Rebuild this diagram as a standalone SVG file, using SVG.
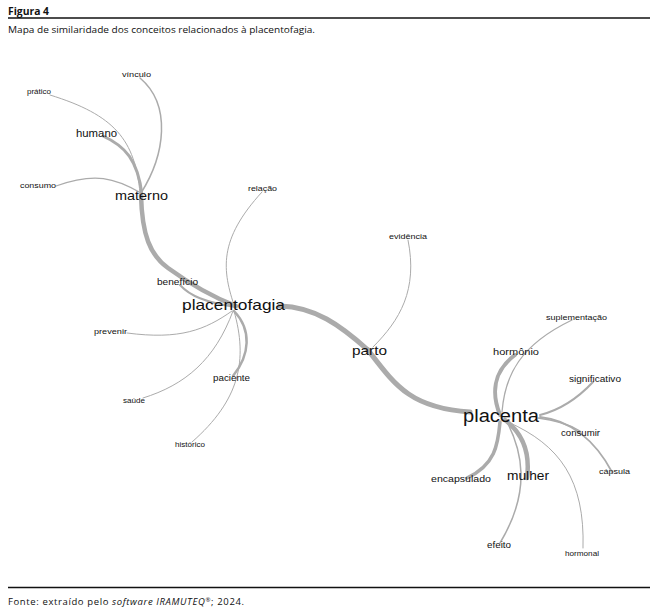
<svg xmlns="http://www.w3.org/2000/svg" width="660" height="616" viewBox="0 0 660 616">
<style>
.cap{font-family:"Open Sans","Noto Sans","DejaVu Sans",sans-serif;fill:#111}
.lbl{font-family:"Liberation Sans",Arial,sans-serif;fill:#111}
.e{fill:none;stroke:#ababab;stroke-linecap:round}
.rule{stroke:#111}
</style>
<rect width="660" height="616" fill="#fff"/>
<g id="header">
<text class="cap" x="8" y="15" font-size="10.5" font-weight="bold" textLength="41" lengthAdjust="spacingAndGlyphs">Figura 4</text>
<line class="rule" x1="8" y1="18" x2="650" y2="18" stroke-width="1.3"/>
<text class="cap" x="8" y="33" font-size="9" textLength="307" lengthAdjust="spacingAndGlyphs">Mapa de similaridade dos conceitos relacionados à placentofagia.</text>
</g>
<g id="connectors">
<path class="e" stroke-width="3" d="M103,136 C125,146 138,160 142,195"/>
<path class="e" stroke-width="1.5" d="M141,193 C165,155 172,105 140,78"/>
<path class="e" stroke-width="1" stroke="#bdbdbd" d="M140,193 C135,140 115,115 50,95"/>
<path class="e" stroke-width="1.3" d="M141,193 C115,178 95,172 56,186"/>
<path class="e" stroke-width="4.5" d="M141,195 C142,235 150,255 168,268 C190,284 210,296 236,306"/>
<path class="e" stroke-width="2" d="M180,285 C190,296 205,302 235,307"/>
<path class="e" stroke-width="1" stroke="#c2c2c2" d="M235,308 C222,270 218,240 262,192"/>
<path class="e" stroke-width="1" stroke="#c2c2c2" d="M232,311 C205,330 180,340 127,333"/>
<path class="e" stroke-width="1" stroke="#c2c2c2" d="M233,311 C215,360 185,385 143,398"/>
<path class="e" stroke-width="2.5" d="M234,311 C252,330 250,355 233,376"/>
<path class="e" stroke-width="1" stroke="#c2c2c2" d="M234,311 C248,360 240,400 192,442"/>
<path class="e" stroke-width="5" d="M280,306 C315,307 340,325 368,350"/>
<path class="e" stroke-width="5" d="M368,350 C395,385 410,408 470,412"/>
<path class="e" stroke-width="1" stroke="#c2c2c2" d="M373,347 C400,320 418,290 408,240"/>
<path class="e" stroke-width="4" d="M500,415 C492,395 492,372 515,355"/>
<path class="e" stroke-width="1.3" d="M502,412 C505,375 520,345 572,320"/>
<path class="e" stroke-width="2" d="M540,415 C560,410 578,398 593,382"/>
<path class="e" stroke-width="1.3" d="M538,418 C555,420 570,425 580,431"/>
<path class="e" stroke-width="1.8" d="M540,417 C570,420 595,440 612,472"/>
<path class="e" stroke-width="4.5" d="M505,420 C525,435 530,455 527,478"/>
<path class="e" stroke-width="1.5" d="M506,420 C522,450 532,490 500,543"/>
<path class="e" stroke-width="3.5" d="M500,422 C498,445 495,465 467,478"/>
<path class="e" stroke-width="1" stroke="#c2c2c2" d="M508,422 C560,445 585,480 583,548"/>
</g>
<g id="n-materno"><text class="lbl" x="115" y="200" font-size="12.7" textLength="53" lengthAdjust="spacingAndGlyphs">materno</text></g>
<g id="n-humano"><text class="lbl" x="76" y="137" font-size="10" textLength="41" lengthAdjust="spacingAndGlyphs">humano</text></g>
<g id="n-vinculo"><text class="lbl" x="122" y="77" font-size="8" textLength="29" lengthAdjust="spacingAndGlyphs">vínculo</text></g>
<g id="n-pratico"><text class="lbl" x="27" y="94" font-size="7" textLength="24" lengthAdjust="spacingAndGlyphs">prático</text></g>
<g id="n-consumo"><text class="lbl" x="20" y="188" font-size="7.8" textLength="36" lengthAdjust="spacingAndGlyphs">consumo</text></g>
<g id="n-relacao"><text class="lbl" x="248" y="191" font-size="7.8" textLength="29" lengthAdjust="spacingAndGlyphs">relação</text></g>
<g id="n-placentofagia"><text class="lbl" x="182" y="310" font-size="15" textLength="103" lengthAdjust="spacingAndGlyphs">placentofagia</text></g>
<g id="n-beneficio"><text class="lbl" x="157" y="285" font-size="8.8" textLength="41" lengthAdjust="spacingAndGlyphs">benefício</text></g>
<g id="n-prevenir"><text class="lbl" x="94" y="334" font-size="8" textLength="33" lengthAdjust="spacingAndGlyphs">prevenir</text></g>
<g id="n-paciente"><text class="lbl" x="213" y="381" font-size="8.6" textLength="37" lengthAdjust="spacingAndGlyphs">paciente</text></g>
<g id="n-saude"><text class="lbl" x="123" y="403" font-size="7" textLength="22" lengthAdjust="spacingAndGlyphs">saúde</text></g>
<g id="n-historico"><text class="lbl" x="175" y="447" font-size="7" textLength="30" lengthAdjust="spacingAndGlyphs">histórico</text></g>
<g id="n-parto"><text class="lbl" x="352" y="355" font-size="13.5" textLength="35" lengthAdjust="spacingAndGlyphs">parto</text></g>
<g id="n-evidencia"><text class="lbl" x="389" y="239" font-size="8" textLength="38" lengthAdjust="spacingAndGlyphs">evidência</text></g>
<g id="n-suplementacao"><text class="lbl" x="546" y="320" font-size="7.4" textLength="61" lengthAdjust="spacingAndGlyphs">suplementação</text></g>
<g id="n-hormonio"><text class="lbl" x="493" y="355" font-size="9.7" textLength="46" lengthAdjust="spacingAndGlyphs">hormônio</text></g>
<g id="n-significativo"><text class="lbl" x="569" y="382" font-size="8.8" textLength="52" lengthAdjust="spacingAndGlyphs">significativo</text></g>
<g id="n-placenta"><text class="lbl" x="463" y="422" font-size="17.5" textLength="76" lengthAdjust="spacingAndGlyphs">placenta</text></g>
<g id="n-consumir"><text class="lbl" x="561" y="436" font-size="8.4" textLength="39" lengthAdjust="spacingAndGlyphs">consumir</text></g>
<g id="n-capsula"><text class="lbl" x="599" y="474" font-size="8" textLength="31" lengthAdjust="spacingAndGlyphs">cápsula</text></g>
<g id="n-encapsulado"><text class="lbl" x="431" y="482" font-size="9.3" textLength="60" lengthAdjust="spacingAndGlyphs">encapsulado</text></g>
<g id="n-mulher"><text class="lbl" x="507" y="480" font-size="12" textLength="42" lengthAdjust="spacingAndGlyphs">mulher</text></g>
<g id="n-efeito"><text class="lbl" x="487" y="548" font-size="8.6" textLength="24" lengthAdjust="spacingAndGlyphs">efeito</text></g>
<g id="n-hormonal"><text class="lbl" x="565" y="556" font-size="7.2" textLength="34" lengthAdjust="spacingAndGlyphs">hormonal</text></g>
<g id="footer">
<line class="rule" x1="8" y1="587.5" x2="650" y2="587.5" stroke-width="1.6"/>
<text class="cap" x="8" y="605" font-size="9.5" textLength="236" lengthAdjust="spacing">Fonte: extraído pelo <tspan font-style="italic">software IRAMUTEQ</tspan><tspan font-size="6" dy="-3.5">®</tspan><tspan dy="3.5">; 2024.</tspan></text>
</g>
</svg>
